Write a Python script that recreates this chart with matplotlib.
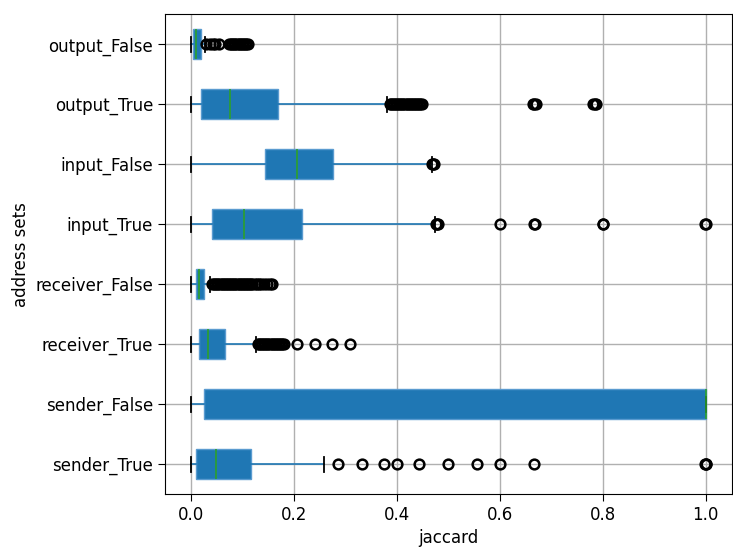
import matplotlib
matplotlib.use('Agg')
import matplotlib.pyplot as plt

# address sets, bottom to top as drawn
labels = ['sender_True', 'sender_False', 'receiver_True', 'receiver_False',
          'input_True', 'input_False', 'output_True', 'output_False']

# box stats (jaccard)
whislo = [0.0, 0.0, 0.0, 0.0, 0.0, 0.0, 0.0, 0.0]
q1 = [0.011, 0.025, 0.017, 0.010, 0.041, 0.145, 0.021, 0.004]
med = [0.050, 1.0, 0.034, 0.017, 0.104, 0.206, 0.076, 0.010]
q3 = [0.118, 1.0, 0.066, 0.026, 0.216, 0.276, 0.169, 0.020]
whishi = [0.259, 1.0, 0.126, 0.037, 0.475, 0.469, 0.382, 0.027]

# outliers
fl_sender_true = [0.286, 0.333, 0.375, 0.4, 0.444, 0.5, 0.556, 0.6, 0.667,
                  1.0, 0.999, 1.0]
fl_sender_false = []
fl_receiver_true = [0.130, 0.133, 0.136, 0.139, 0.142, 0.145, 0.148, 0.151,
                    0.154, 0.157, 0.160, 0.163, 0.166, 0.169, 0.172, 0.175,
                    0.178, 0.182, 0.206, 0.241, 0.275, 0.309]
fl_receiver_false = [0.042, 0.045, 0.048, 0.051, 0.054, 0.057, 0.060, 0.063,
                     0.066, 0.069, 0.072, 0.075, 0.078, 0.081, 0.084, 0.087,
                     0.090, 0.093, 0.096, 0.099, 0.102, 0.105, 0.108, 0.111,
                     0.114, 0.117, 0.120, 0.124, 0.128, 0.132, 0.137, 0.142,
                     0.148, 0.154, 0.158]
fl_input_true = [0.476, 0.478, 0.480, 0.6, 0.667, 0.668, 0.8, 0.801, 1.0, 0.999]
fl_input_false = [0.469, 0.471, 0.473]
fl_output_true = [0.386, 0.389, 0.392, 0.395, 0.398, 0.401, 0.404, 0.407,
                  0.410, 0.413, 0.416, 0.419, 0.422, 0.425, 0.428, 0.431,
                  0.434, 0.437, 0.440, 0.443, 0.446, 0.449,
                  0.664, 0.667, 0.670, 0.781, 0.784, 0.787]
fl_output_false = [0.030, 0.038, 0.043, 0.048, 0.055, 0.075, 0.078, 0.081,
                   0.084, 0.087, 0.090, 0.093, 0.096, 0.099, 0.102, 0.105,
                   0.108, 0.111]

fliers = [fl_sender_true, fl_sender_false, fl_receiver_true, fl_receiver_false,
          fl_input_true, fl_input_false, fl_output_true, fl_output_false]

stats = []
for i in range(len(labels)):
    stats.append({'label': labels[i], 'whislo': whislo[i], 'q1': q1[i],
                  'med': med[i], 'q3': q3[i], 'whishi': whishi[i],
                  'fliers': fliers[i]})

fig = plt.figure(figsize=(7.33, 5.49), dpi=100)
ax = fig.add_axes([0.225, 0.1, 0.773, 0.874])

blue = '#1f77b4'
ax.bxp(stats, vert=False, patch_artist=True, widths=0.5,
       boxprops=dict(facecolor=blue, edgecolor='#5a9bd0', linewidth=1),
       whiskerprops=dict(color=blue, linewidth=1.2),
       capprops=dict(color='black', linewidth=1.3),
       medianprops=dict(color='#2ca02c', linewidth=1.2),
       flierprops=dict(marker='o', markerfacecolor='none',
                       markeredgecolor='black', markersize=7,
                       markeredgewidth=1.8))

ax.set_xlim(-0.05, 1.05)
ax.set_ylim(0.5, 8.5)
ax.grid(True, color='#b0b0b0', linewidth=1)
ax.set_axisbelow(True)
ax.tick_params(labelsize=12, length=5)
ax.set_xlabel('jaccard', fontsize=12)
ax.set_ylabel('address sets', fontsize=12)

fig.savefig('out.png', dpi=100)
